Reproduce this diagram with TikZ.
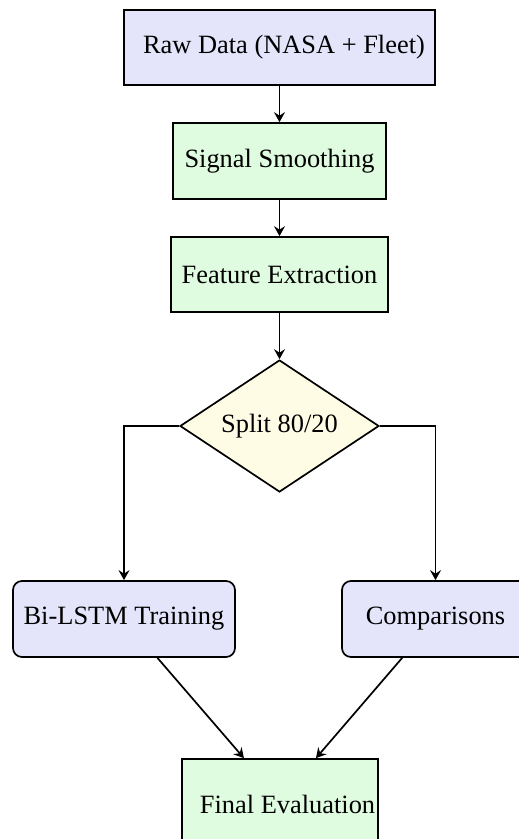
\documentclass[tikz,border=0pt]{standalone}
\usepackage{fontspec}
\setmainfont{Liberation Serif}
\usetikzlibrary{shapes.geometric,arrows.meta}
\definecolor{lav}{HTML}{E4E4FA}
\definecolor{mint}{HTML}{E0FCE0}
\definecolor{cream}{HTML}{FFFCE6}
\tikzset{
  boxbase/.style={draw=black, line width=1.7pt, inner sep=0pt, font=\fontsize{26.4}{30}\selectfont},
  rawbox/.style={boxbase, fill=lav},
  greenbox/.style={boxbase, fill=mint},
  roundbox/.style={boxbase, fill=lav, rounded corners=9pt},
  splitbox/.style={boxbase, fill=cream, diamond, aspect=1.5},
  conn/.style={line width=1.7pt, -{Stealth[length=10pt,width=11pt,inset=3.5pt]}},
}
\begin{document}
\begin{tikzpicture}[x=1pt,y=-1pt]
\useasboundingbox (0,0) rectangle (519,839);
\clip (0,0) rectangle (519,839);
\node[rawbox, minimum width=311pt, minimum height=75pt,
  label={[font=\fontsize{26.4}{30}\selectfont, xshift=4.5pt]center:Raw Data (NASA + Fleet)}] (raw) at (279.5,47.5) {};
\node[greenbox, minimum width=213pt, minimum height=76pt] (sig) at (279.5,161) {Signal Smoothing};
\node[greenbox, minimum width=217pt, minimum height=75pt] (feat) at (279.5,274.5) {Feature Extraction};
\node[splitbox, minimum width=199pt, minimum height=132pt] (split) at (279.5,426) {Split 80/20};
\node[roundbox, minimum width=222pt, minimum height=76pt] (bi) at (124,619) {Bi-LSTM Training};
\node[roundbox, minimum width=187pt, minimum height=76pt] (cmp) at (435.5,619) {Comparisons};
\node[greenbox, minimum width=196pt, minimum height=82pt,
  label={[font=\fontsize{26.4}{30}\selectfont, xshift=7.5pt, yshift=-4pt]center:Final Evaluation}] (final) at (280,800) {};
\draw[conn] (raw) -- (sig);
\draw[conn] (sig) -- (feat);
\draw[conn] (feat) -- (split);
\draw[conn] (split.west) -| (bi.north);
\draw[conn] (split.east) -| (cmp.north);
\draw[conn] (bi) -- (final);
\draw[conn] (cmp) -- (final);
\end{tikzpicture}
\end{document}
